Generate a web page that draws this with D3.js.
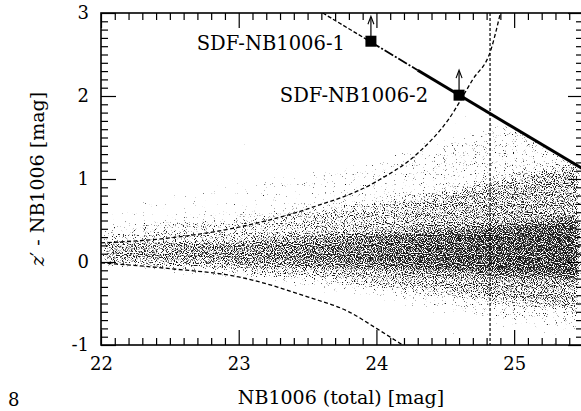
<!DOCTYPE html>
<html>
<head>
<meta charset="utf-8">
<script src="https://cdn.jsdelivr.net/npm/d3@7"></script>
<style>
  body { margin: 0; background: #fff; }
</style>
</head>
<body>
<div id="chart"></div>
<script>
// Data
var magGrid      = [22.0, 22.5, 23.0, 23.5, 24.0, 24.5, 25.0, 25.5];
var cloudDensity = [0.70, 0.74, 0.78, 0.84, 0.90, 0.97, 1.00, 1.00];
var haloHigh  = [1.20, 1.40, 1.60, 1.80, 1.95, 2.10, 2.30, 2.50];
var haloLow   = [-0.30, -0.40, -0.50, -0.65, -0.80, -0.95, -1.05, -1.10];
var outerHigh = [0.71, 0.85, 0.99, 1.11, 1.25, 1.45, 1.70, 1.90];
var outerLow  = [-0.05, -0.13, -0.21, -0.33, -0.46, -0.58, -0.74, -0.84];
var midHigh   = [0.43, 0.49, 0.55, 0.63, 0.72, 0.84, 1.02, 1.20];
var midLow    = [-0.05, -0.11, -0.17, -0.23, -0.30, -0.38, -0.50, -0.58];
var coreHigh  = [0.23, 0.25, 0.27, 0.31, 0.35, 0.39, 0.45, 0.54];
var coreLow   = [-0.02, -0.03, -0.05, -0.07, -0.09, -0.12, -0.16, -0.21];

var upperCurveMag = [22.0, 22.5, 23.0, 23.5, 24.0, 24.3, 24.52, 24.7, 24.83, 24.9];
var upperCurveVal = [0.23, 0.29, 0.42, 0.64, 0.97, 1.31, 1.71, 2.2, 2.55, 3.0];
var lowerCurveMag = [22.0, 22.5, 23.0, 23.5, 23.8, 24.0, 24.19];
var lowerCurveVal = [-0.01, -0.08, -0.18, -0.42, -0.60, -0.80, -1.0];

var limitMag = 24.825;

// z' limit line: thin dashed, dash-dot, then solid
var limitLineMag = [23.61, 23.96, 24.30, 25.5];
var limitLineVal = [3.00, 2.65, 2.31, 1.12];

var objNames = ["SDF-NB1006-1", "SDF-NB1006-2"];
var objMag   = [23.96, 24.60];
var objColor = [2.66, 2.01];

var xMajorTicks = [22, 23, 24, 25];
var yMajorTicks = [-1, 0, 1, 2, 3];

var FONT = "'DejaVu Serif', 'Liberation Serif', serif";

// Setup
var svgWidth = 581;
var svgHeight = 411;
var margin = { top: 13, left: 101 };
var width = 482;
var height = 332;

var svg = d3.select("#chart")
    .append("svg")
    .attr("width", svgWidth)
    .attr("height", svgHeight);

var x = d3.scaleLinear().domain([22, 25.5]).range([margin.left, margin.left + width]);
var y = d3.scaleLinear().domain([-1, 3]).range([margin.top + height, margin.top]);

var defs = svg.append("defs");

defs.append("clipPath").attr("id", "plotClip")
    .append("rect")
    .attr("x", x(22)).attr("y", y(3))
    .attr("width", width).attr("height", height);

// region below the limit line (the cloud is cut there)
var clipPts = [[x(22), y(3)]]
    .concat(limitLineMag.map(function (m, i) { return [x(m), y(limitLineVal[i])]; }))
    .concat([[x(25.5), y(-1)], [x(22), y(-1)]]);
defs.append("clipPath").attr("id", "cloudClip")
    .append("path")
    .attr("d", "M" + clipPts.join("L") + "Z");

// density gradient along magnitude
var grad = defs.append("linearGradient")
    .attr("id", "densGrad")
    .attr("gradientUnits", "userSpaceOnUse")
    .attr("x1", x(22)).attr("x2", x(25.5))
    .attr("y1", 0).attr("y2", 0);
magGrid.forEach(function (m, i) {
    grad.append("stop")
        .attr("offset", (m - 22) / 3.5)
        .attr("stop-color", "#000")
        .attr("stop-opacity", cloudDensity[i]);
});

// stipple filter: turns the smooth density into speckled dots
var filt = defs.append("filter")
    .attr("id", "stipple")
    .attr("filterUnits", "userSpaceOnUse")
    .attr("x", x(22)).attr("y", y(3))
    .attr("width", width).attr("height", height)
    .attr("color-interpolation-filters", "sRGB");
filt.append("feGaussianBlur")
    .attr("in", "SourceAlpha").attr("stdDeviation", 4).attr("result", "dens");
filt.append("feTurbulence")
    .attr("type", "fractalNoise").attr("baseFrequency", 0.9)
    .attr("numOctaves", 1).attr("seed", 7).attr("result", "noise");
filt.append("feColorMatrix")
    .attr("in", "noise").attr("type", "matrix")
    .attr("values", "0 0 0 0 0  0 0 0 0 0  0 0 0 0 0  1 0 0 0 0")
    .attr("result", "nA");
filt.append("feComposite")
    .attr("in", "nA").attr("in2", "dens").attr("operator", "arithmetic")
    .attr("k1", 0).attr("k2", 1).attr("k3", 0.72).attr("k4", -1.01)
    .attr("result", "thr");
var ct = filt.append("feComponentTransfer").attr("in", "thr").attr("result", "dots");
ct.append("feFuncA").attr("type", "linear").attr("slope", 8).attr("intercept", 0);
filt.append("feFlood").attr("flood-color", "#1a1a1a").attr("result", "ink");
filt.append("feComposite").attr("in", "ink").attr("in2", "dots").attr("operator", "in");

// Scatter cloud
var bands = [
    { hi: haloHigh, lo: haloLow, op: 0.32 },
    { hi: outerHigh, lo: outerLow, op: 0.30 },
    { hi: midHigh, lo: midLow, op: 0.40 },
    { hi: coreHigh, lo: coreLow, op: 0.50 }
];

var area = d3.area()
    .curve(d3.curveMonotoneX)
    .x(function (d) { return x(d.m); })
    .y0(function (d) { return y(d.lo); })
    .y1(function (d) { return y(d.hi); });

var cloud = svg.append("g")
    .attr("clip-path", "url(#cloudClip)")
    .append("g")
    .attr("filter", "url(#stipple)");

cloud.append("rect")
    .attr("x", x(22)).attr("y", y(3))
    .attr("width", width).attr("height", height)
    .attr("fill", "#000").attr("fill-opacity", 0.001);

bands.forEach(function (b) {
    var rows = magGrid.map(function (m, i) { return { m: m, lo: b.lo[i], hi: b.hi[i] }; });
    cloud.append("path")
        .datum(rows)
        .attr("d", area)
        .attr("fill", "url(#densGrad)")
        .attr("fill-opacity", b.op);
});

// Curves
var plot = svg.append("g").attr("clip-path", "url(#plotClip)");

var line = d3.line()
    .curve(d3.curveMonotoneX)
    .x(function (d) { return x(d[0]); })
    .y(function (d) { return y(d[1]); });

plot.append("path")
    .datum(upperCurveMag.map(function (m, i) { return [m, upperCurveVal[i]]; }))
    .attr("d", line)
    .attr("fill", "none").attr("stroke", "#000")
    .attr("stroke-width", 1.3).attr("stroke-dasharray", "4,2.5");

plot.append("path")
    .datum(lowerCurveMag.map(function (m, i) { return [m, lowerCurveVal[i]]; }))
    .attr("d", line)
    .attr("fill", "none").attr("stroke", "#000")
    .attr("stroke-width", 1.3).attr("stroke-dasharray", "4,2.5");

plot.append("line")
    .attr("x1", x(limitMag)).attr("x2", x(limitMag))
    .attr("y1", y(3)).attr("y2", y(-1))
    .attr("stroke", "#000").attr("stroke-width", 1.2)
    .attr("stroke-dasharray", "3,2");

// limit line segments
var segStyles = [
    { w: 1.3, dash: "4,2" },
    { w: 1.8, dash: "10,2,2,2" },
    { w: 3.0, dash: null }
];
segStyles.forEach(function (s, i) {
    plot.append("line")
        .attr("x1", x(limitLineMag[i])).attr("y1", y(limitLineVal[i]))
        .attr("x2", x(limitLineMag[i + 1])).attr("y2", y(limitLineVal[i + 1]))
        .attr("stroke", "#000").attr("stroke-width", s.w)
        .attr("stroke-dasharray", s.dash);
});

// Objects: squares with upward (lower-limit) arrows
var objGroup = svg.append("g");
objMag.forEach(function (m, i) {
    var cx = x(m), cy = y(objColor[i]);
    objGroup.append("line")
        .attr("x1", cx).attr("x2", cx)
        .attr("y1", cy - 5).attr("y2", cy - 24)
        .attr("stroke", "#000").attr("stroke-width", 1.2);
    objGroup.append("path")
        .attr("d", "M" + (cx - 3) + "," + (cy - 17) + "L" + cx + "," + (cy - 25) + "L" + (cx + 3) + "," + (cy - 17))
        .attr("fill", "none").attr("stroke", "#000").attr("stroke-width", 1.1);
    objGroup.append("rect")
        .attr("x", cx - 5.5).attr("y", cy - 5.5)
        .attr("width", 11).attr("height", 11)
        .attr("fill", "#000");
});

var labelOffsets = [[-26, 9], [-31, 7]];
objNames.forEach(function (n, i) {
    objGroup.append("text")
        .attr("x", x(objMag[i]) + labelOffsets[i][0])
        .attr("y", y(objColor[i]) + labelOffsets[i][1])
        .attr("text-anchor", "end")
        .attr("font-family", FONT)
        .attr("font-size", 19.5)
        .text(n);
});

// Axes with inward ticks on all sides
function addAxis(axisFn, scale, translate, majors, showLabels) {
    var g = svg.append("g").attr("transform", translate);
    var minors = scale.ticks(40).filter(function (t) {
        return majors.indexOf(Math.round(t * 10) / 10) < 0;
    });
    g.append("g")
        .call(axisFn(scale).tickValues(minors).tickSize(-7).tickSizeOuter(0).tickFormat(""))
        .call(function (s) { s.select(".domain").remove(); });
    var maj = g.append("g")
        .call(axisFn(scale).tickValues(majors).tickSize(-15).tickSizeOuter(0)
            .tickPadding(12)
            .tickFormat(showLabels ? function (d) { return String(d); } : ""));
    maj.select(".domain").remove();
    maj.attr("font-family", FONT).attr("font-size", 18);
    maj.selectAll("text").attr("fill", "#000");
    g.selectAll(".tick line").attr("stroke", "#000").attr("stroke-width", 1.2);
    return g;
}

addAxis(d3.axisBottom, x, "translate(0," + y(-1) + ")", xMajorTicks, true);
addAxis(d3.axisTop, x, "translate(0," + y(3) + ")", xMajorTicks, false);
addAxis(d3.axisLeft, y, "translate(" + x(22) + ",0)", yMajorTicks, true);
addAxis(d3.axisRight, y, "translate(" + x(25.5) + ",0)", yMajorTicks, false);

svg.append("rect")
    .attr("x", x(22)).attr("y", y(3))
    .attr("width", width).attr("height", height)
    .attr("fill", "none").attr("stroke", "#000").attr("stroke-width", 1.6);

// Axis titles
svg.append("text")
    .attr("x", 341).attr("y", 404)
    .attr("text-anchor", "middle")
    .attr("font-family", FONT)
    .attr("font-size", 19)
    .text("NB1006 (total) [mag]");

var yt = svg.append("text")
    .attr("transform", "translate(44," + ((y(3) + y(-1)) / 2) + ") rotate(-90)")
    .attr("text-anchor", "middle")
    .attr("font-family", FONT)
    .attr("font-size", 19);
yt.append("tspan").attr("font-style", "italic").text("z");
yt.append("tspan").text("\u2032 - NB1006 [mag]");

svg.append("text")
    .attr("x", 8).attr("y", 406)
    .attr("font-family", FONT)
    .attr("font-size", 18)
    .text("8");
</script>
</body>
</html>
